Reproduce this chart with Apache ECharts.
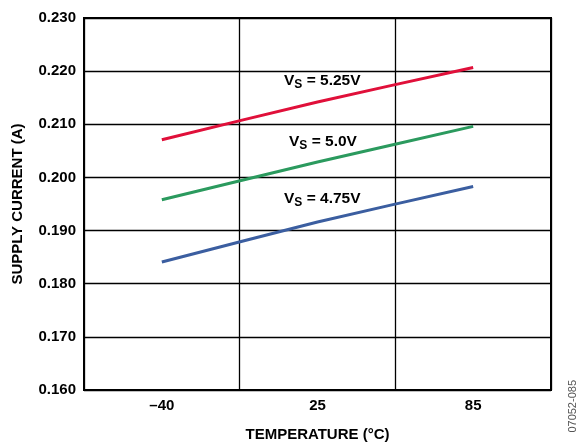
<!DOCTYPE html>
<html>
<head>
<meta charset="utf-8">
<script src="https://cdn.jsdelivr.net/npm/echarts@6/dist/echarts.min.js"></script>
<style>
  html, body { margin: 0; padding: 0; background: #fff; }
  #chart { width: 581px; height: 445px; }
</style>
</head>
<body>
<div id="chart"></div>
<script>
const temps = ['–40', '25', '85']
const vs525 = [0.2071, 0.2142, 0.2207]
const vs500 = [0.1958, 0.2029, 0.2096]
const vs475 = [0.1841, 0.1916, 0.1983]
const yTicks = [0.16, 0.23, 0.01]

const font = 'Liberation Sans, Arial, sans-serif'
const chart = echarts.init(document.getElementById('chart'))

const lineSeries = (data, color) => ({
  type: 'line',
  data: data,
  smooth: 0.2,
  symbol: 'none',
  lineStyle: { color: color, width: 3 },
  z: 5
})

const vsLabel = (x, y, val) => ({
  type: 'text',
  left: x,
  top: y,
  style: {
    text: '{v|V}{s|S}{v| = ' + val + '}',
    rich: {
      v: { fontFamily: font, fontWeight: 'bold', fontSize: 15.5, fill: '#000' },
      s: { fontFamily: font, fontWeight: 'bold', fontSize: 12, fill: '#000', padding: [7, 0, 0, 0] }
    }
  }
})

chart.setOption({
  animation: false,
  grid: {
    left: 84, right: 30, top: 18, bottom: 55,
    outerBoundsMode: 'none',
    containLabel: false,
    show: true, borderColor: '#000', borderWidth: 2
  },
  xAxis: {
    type: 'category',
    data: temps,
    boundaryGap: true,
    name: 'TEMPERATURE (°C)',
    nameLocation: 'middle',
    nameGap: 37,
    nameTextStyle: { fontFamily: font, fontWeight: 'bold', fontSize: 15, color: '#000' },
    axisLine: { show: true, lineStyle: { color: '#000', width: 2 } },
    axisTick: { show: false },
    axisLabel: { fontFamily: font, fontWeight: 'bold', fontSize: 15, color: '#000', margin: 8 },
    splitLine: { show: true, lineStyle: { color: '#000', width: 1.3 } }
  },
  yAxis: {
    type: 'value',
    min: yTicks[0],
    max: yTicks[1],
    interval: yTicks[2],
    name: 'SUPPLY CURRENT (A)',
    nameLocation: 'middle',
    nameGap: 59,
    nameTextStyle: { fontFamily: font, fontWeight: 'bold', fontSize: 15, color: '#000' },
    axisLine: { show: true, lineStyle: { color: '#000', width: 2 } },
    axisTick: { show: false },
    axisLabel: {
      fontFamily: font, fontWeight: 'bold', fontSize: 15, color: '#000', margin: 8,
      formatter: v => v.toFixed(3)
    },
    splitLine: { show: true, lineStyle: { color: '#000', width: 1.3 } }
  },
  series: [
    lineSeries(vs525, '#e0103a'),
    lineSeries(vs500, '#2b9a5e'),
    lineSeries(vs475, '#3b5ea0')
  ],
  graphic: [
    vsLabel(284, 73, '5.25V'),
    vsLabel(289, 134, '5.0V'),
    vsLabel(284, 191, '4.75V'),
    {
      type: 'text',
      left: 567,
      top: 380,
      rotation: Math.PI / 2,
      style: { text: '07052-085', fontFamily: font, fontSize: 11, fill: '#555' }
    }
  ]
})
</script>
</body>
</html>
